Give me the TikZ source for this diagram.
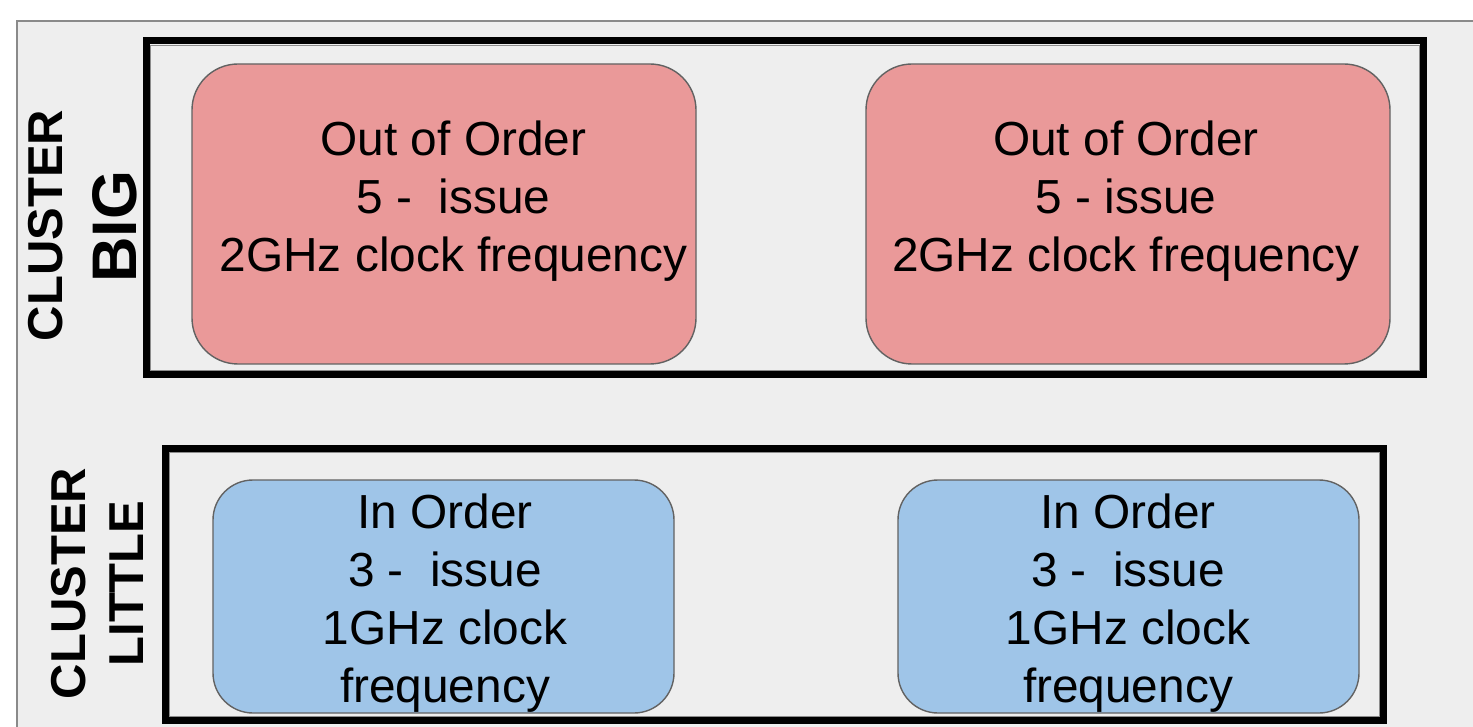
\documentclass[tikz,border=0pt]{standalone}
\usepackage{fontspec}
\setmainfont{Liberation Sans}
\definecolor{panelbg}{HTML}{EEEEEE}
\definecolor{panelline}{HTML}{8A8A8A}
\definecolor{bigfill}{HTML}{EA9999}
\definecolor{littlefill}{HTML}{9FC5E8}
\definecolor{boxline}{HTML}{626262}
\definecolor{innerline}{HTML}{8C8C8C}
\begin{document}
\begin{tikzpicture}[x=1pt,y=-1pt,
  core/.style={draw=boxline, line width=1.4pt, rounded corners=#1},
  bigcore/.style={core=46pt, fill=bigfill},
  littlecore/.style={core=40pt, fill=littlefill},
  coretext/.style={align=center, inner sep=0pt, font=\fontsize{47.8}{58}\selectfont},
  frame/.style={draw=black, line width=7pt},
  innerframe/.style={draw=innerline, line width=1.3pt},
  lbl/.style={rotate=90, anchor=base, inner sep=0pt, font=\bfseries\fontsize{49}{58}\selectfont}
]
\useasboundingbox (0,0) rectangle (1473,727);
% panel
\draw[draw=panelline, fill=panelbg, line width=1.5pt] (17,21) rectangle (1490,740);

% BIG cluster frame
\draw[frame] (146.5,41) rectangle (1423.5,374.5);
\draw[innerframe] (150.8,45.2) rectangle (1419.4,370.6);
% LITTLE cluster frame
\draw[frame] (165,448) rectangle (1383.5,720);
\draw[innerframe] (169.2,452.2) rectangle (1379.4,716.2);

% big cores
\draw[bigcore] (192,64) rectangle (696,364);
\draw[bigcore] (866,64) rectangle (1390,364);
% little cores
\draw[littlecore] (213,480) rectangle (674,713);
\draw[littlecore] (898,480) rectangle (1359,713);

\node[coretext] (b1) at (453.5,201) {Out of Order\\5 -~ issue\\2GHz clock frequency};
\node[coretext] (b2) at (1126,201) {Out of Order\\5 - issue\\2GHz clock frequency};
\node[coretext] (l1) at (445,603) {In Order\\3 -~ issue\\1GHz clock\\frequency};
\node[coretext] (l2) at (1128,603) {In Order\\3 -~ issue\\1GHz clock\\frequency};

% cluster labels
\node[lbl] (cb) at (62,225.5) {CLUSTER};
\node[lbl, font=\bfseries\fontsize{63}{70}\selectfont] (bg) at (136,226.5) {BIG};
\node[lbl] (cl) at (85,583.5) {CLUSTER};
\node[lbl] (lt) at (143,583.5) {LITTLE};
\end{tikzpicture}
\end{document}
